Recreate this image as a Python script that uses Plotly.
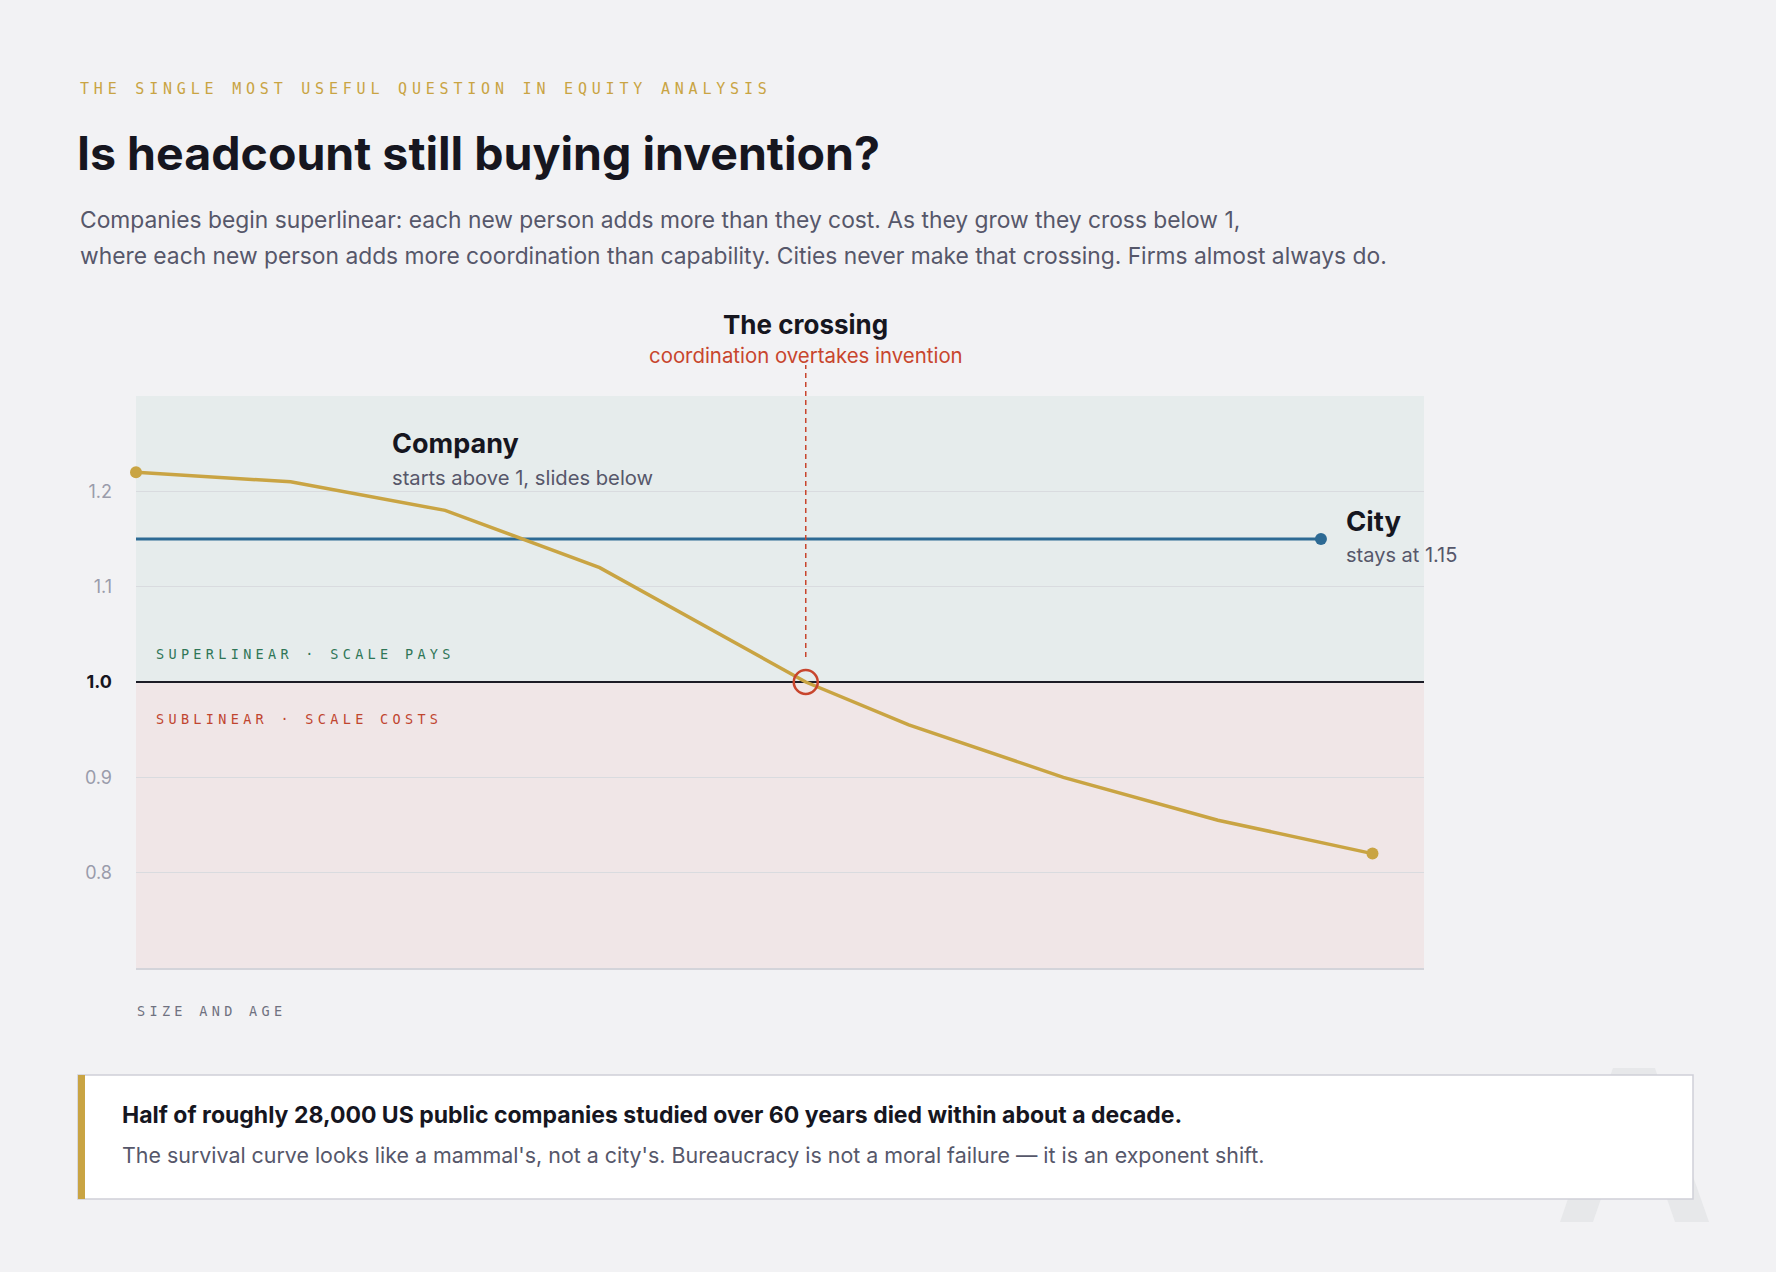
import plotly.graph_objects as go

# values
size_age = [0, 12, 24, 36, 52, 60, 72, 84, 96]
company_exp = [1.22, 1.21, 1.18, 1.12, 1.00, 0.955, 0.90, 0.855, 0.82]
city_x = [0, 92]
city_exp = [1.15, 1.15]
crossing_x = [52]
crossing_y = [1.0]
y_ticks = [0.8, 0.9, 1.0, 1.1, 1.2]
y_tick_text = ['0.8', '0.9', '<span style="color:#16161f"><b>1.0</b></span>', '1.1', '1.2']

W, H = 1776, 1272
# plot box in pixels
L, R, T, B = 136, 1424, 396, 968

BG = '#f2f2f4'
GOLD = '#c9a443'
BLUE = '#2d6a94'
RED = '#c8452d'
INK = '#16161f'
GREY = '#56576a'
SANS = 'Inter, Roboto, sans-serif'
MONO = 'DejaVu Sans Mono, Liberation Mono, monospace'


def px(x, y):
    # pixel position -> paper coords
    return (x - L) / (R - L), (B - y) / (B - T)


fig = go.Figure()

# City stays flat
fig.add_trace(go.Scatter(x=city_x, y=city_exp, mode='lines',
                         line=dict(color=BLUE, width=3.2), cliponaxis=False))
fig.add_trace(go.Scatter(x=city_x[-1:], y=city_exp[-1:], mode='markers',
                         marker=dict(color=BLUE, size=12), cliponaxis=False))

# Company slides below 1
fig.add_trace(go.Scatter(x=size_age, y=company_exp, mode='lines',
                         line=dict(color=GOLD, width=3.5), cliponaxis=False))
fig.add_trace(go.Scatter(x=[size_age[0], size_age[-1]], y=[company_exp[0], company_exp[-1]],
                         mode='markers', marker=dict(color=GOLD, size=12), cliponaxis=False))

# the crossing
fig.add_trace(go.Scatter(x=crossing_x, y=crossing_y, mode='markers',
                         marker=dict(symbol='circle-open', color=RED, size=24,
                                     line=dict(color=RED, width=2.5)),
                         cliponaxis=False))

shapes = []
# superlinear / sublinear zones
shapes.append(dict(type='rect', xref='x', yref='y', x0=0, x1=100, y0=1.0, y1=1.3,
                   fillcolor='#e6ecec', line=dict(width=0), layer='below'))
shapes.append(dict(type='rect', xref='x', yref='y', x0=0, x1=100, y0=0.7, y1=1.0,
                   fillcolor='#f0e6e7', line=dict(width=0), layer='below'))
shapes.append(dict(type='line', xref='x', yref='y', x0=0, x1=100, y0=1.0, y1=1.0,
                   line=dict(color='#1c1c26', width=2), layer='between'))

# dashed pointer to the crossing
cx = crossing_x[0] / 100
shapes.append(dict(type='line', xref='paper', yref='paper', x0=cx, x1=cx,
                   y0=px(0, 657)[1], y1=px(0, 365)[1],
                   line=dict(color=RED, width=1.5, dash='5px,4px'), layer='above'))

# faint watermark behind the callout
pts = [(1560, 1222), (1613, 1068), (1655, 1068), (1709, 1222), (1675, 1222),
       (1634, 1104), (1593, 1222)]
path = 'M ' + ' L '.join('%.4f,%.4f' % px(x, y) for x, y in pts) + ' Z'
shapes.append(dict(type='path', xref='paper', yref='paper', path=path,
                   fillcolor='#e7e8ea', line=dict(width=0), layer='above'))

# callout box
bx0, by0 = px(78, 1199)
bx1, by1 = px(1693, 1075)
shapes.append(dict(type='rect', xref='paper', yref='paper', x0=bx0, x1=bx1, y0=by0, y1=by1,
                   fillcolor='white', line=dict(color='#cfd0d8', width=1.5), layer='above'))
shapes.append(dict(type='rect', xref='paper', yref='paper', x0=bx0, x1=px(85, 0)[0], y0=by0, y1=by1,
                   fillcolor=GOLD, line=dict(width=0), layer='above'))

annotations = []


def note(text, x, y, size, color, family=SANS, xanchor='left', xref='paper', yref='paper'):
    annotations.append(dict(text=text, x=x, y=y, xref=xref, yref=yref, showarrow=False,
                            xanchor=xanchor, yanchor='middle', align=xanchor,
                            font=dict(family=family, size=size, color=color)))


def pnote(text, x, y, size, color, family=SANS, xanchor='left'):
    ax, ay = px(x, y)
    note(text, ax, ay, size, color, family, xanchor)


# header
pnote('THE SINGLE MOST USEFUL QUESTION IN EQUITY ANALYSIS', 78, 89, 15, GOLD, MONO)
pnote('<b>Is headcount still buying invention?</b>', 75, 153, 46.5, INK)
pnote('Companies begin superlinear: each new person adds more than they cost. As they grow they cross below 1,',
      78, 219, 22.8, GREY)
pnote('where each new person adds more coordination than capability. Cities never make that crossing. Firms almost always do.',
      78, 255, 22.8, GREY)

# crossing labels
note('<b>The crossing</b>', crossing_x[0], px(0, 324)[1], 26, INK, xanchor='center', xref='x')
note('coordination overtakes invention', crossing_x[0], px(0, 355)[1], 20.4, RED, xanchor='center', xref='x')

# series labels
note('<b>Company</b>', 19.75, 1.2507, 27, INK, xref='x', yref='y')
note('starts above 1, slides below', 19.75, 1.215, 20.2, GREY, xref='x', yref='y')
note('<b>City</b>', 93.8, 1.169, 27.5, INK, xref='x', yref='y')
note('stays at 1.15', 93.8, 1.133, 20, GREY, xref='x', yref='y')

# zone labels
note('SUPERLINEAR · SCALE PAYS', 1.4, 1.029, 13.5, '#2f7657', MONO, xref='x', yref='y')
note('SUBLINEAR · SCALE COSTS', 1.4, 0.961, 13.5, '#c0452f', MONO, xref='x', yref='y')
pnote('SIZE AND AGE', 135, 1011, 13.5, '#6f7180', MONO)

# callout text
pnote('<b>Half of roughly 28,000 US public companies studied over 60 years died within about a decade.</b>',
      120, 1115, 23, INK)
pnote("The survival curve looks like a mammal's, not a city's. Bureaucracy is not a moral failure — it is an exponent shift.",
      120, 1155, 21.4, GREY)

fig.update_layout(
    width=W, height=H,
    margin=dict(l=L, r=W - R, t=T, b=H - B, pad=0),
    paper_bgcolor=BG, plot_bgcolor=BG,
    showlegend=False, hovermode=False,
    shapes=shapes, annotations=annotations,
    xaxis=dict(range=[0, 100], showgrid=False, zeroline=False, showticklabels=False,
               showline=True, linecolor='#d3d4da', linewidth=1.5, fixedrange=True),
    yaxis=dict(range=[0.7, 1.3], tickvals=y_ticks, ticktext=y_tick_text,
               tickfont=dict(family=SANS, size=18, color='#9a9cab'),
               showgrid=True, gridcolor='#d9dbdf', gridwidth=1, zeroline=False,
               showline=False, ticklabelstandoff=23, fixedrange=True),
)

# no page margin, and wide tracking on the small mono captions
page_js = """
document.body.style.margin = '0';
document.querySelectorAll('text.annotation-text').forEach(function(t){
  if ((t.style.fontFamily || '').indexOf('Mono') >= 0) { t.style.letterSpacing = '0.32em'; }
});
"""

fig.write_html("out.html", post_script=page_js, config={'displayModeBar': False})
